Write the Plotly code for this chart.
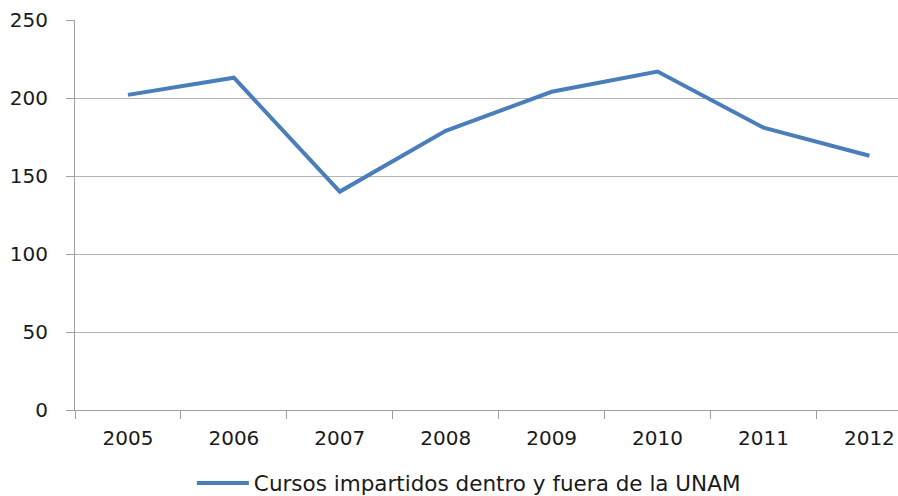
import plotly.graph_objects as go

years = ["2005", "2006", "2007", "2008", "2009", "2010", "2011", "2012"]
cursos = [202, 213, 140, 179, 204, 217, 181, 163]
series_name = "Cursos impartidos dentro y fuera de la UNAM"
y_ticks = [0, 50, 100, 150, 200, 250]

fig = go.Figure()
fig.add_trace(go.Scatter(
    x=years, y=cursos, mode="lines", name=series_name,
    line=dict(color="#4A7EBB", width=4),
))

font = dict(family="DejaVu Sans", size=20, color="#1a1a1a")

fig.update_layout(
    width=898, height=496,
    margin=dict(l=75, r=0, t=20, b=86, autoexpand=False),
    paper_bgcolor="white", plot_bgcolor="white",
    font=font,
    showlegend=True,
    legend=dict(orientation="h", x=0.142, xanchor="left", y=-0.187, yanchor="middle",
                itemwidth=52,
                font=dict(family="DejaVu Sans", size=21.5, color="#1a1a1a"),
                bgcolor="rgba(0,0,0,0)"),
)
fig.update_xaxes(
    type="category", range=[-0.5, 7.27], automargin=False,
    showgrid=False, showline=True, linecolor="#A0A0A0", linewidth=1,
    ticks="outside", tickson="boundaries", ticklen=8, tickcolor="#A0A0A0",
    ticklabelstandoff=10, tickfont=font,
)
fig.update_yaxes(
    range=[0, 250], tickvals=y_ticks, automargin=False,
    showgrid=True, gridcolor="#B4B4B4", gridwidth=1,
    showline=True, linecolor="#A0A0A0", linewidth=1,
    ticks="outside", ticklen=8, tickcolor="#A0A0A0",
    ticklabelstandoff=14, tickfont=font, zeroline=False,
)

fig.write_html(
    "out.html",
    config={"displayModeBar": False},
    post_script="document.body.style.margin='0';document.body.style.overflow='hidden';",
)
